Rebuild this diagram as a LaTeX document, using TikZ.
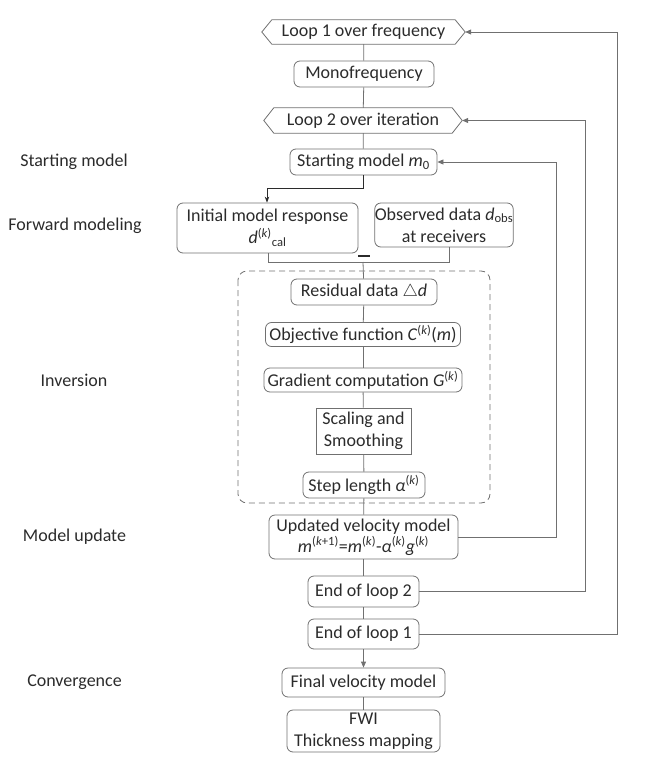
\documentclass[tikz,border=0pt]{standalone}
\usepackage{fontspec}
\setmainfont{Carlito}
\usetikzlibrary{arrows.meta}
\definecolor{txt}{HTML}{2B2B2B}
\definecolor{ln}{HTML}{707070}
\begin{document}
\begin{tikzpicture}[x=1pt,y=-1pt,
  every node/.style={text=txt, font=\fontsize{18}{22}\selectfont, inner sep=0pt},
  box/.style={draw=ln, line width=0.8pt, rounded corners=6pt, align=center},
  sqbox/.style={draw=ln, line width=0.8pt, align=center},
  hexnode/.style={align=center},
  conn/.style={draw=ln, line width=0.8pt},
  arr/.style={conn, -{Triangle[length=6pt,width=5pt]}},
  lab/.style={anchor=center}
]
\useasboundingbox (0,0) rectangle (659,760);

% left labels
\node[lab] (l1) at (74,162) {Starting model};
\node[lab] (l2) at (75,226) {Forward modeling};
\node[lab] (l3) at (74,380) {Inversion};
\node[lab] (l4) at (74.5,537) {Model update};
\node[lab] (l5) at (74.5,682) {Convergence};

% dashed inversion frame
\draw[ln, line width=0.8pt, dashed, dash pattern=on 6pt off 4pt, rounded corners=9pt] (238,271) rectangle (490,503);

% main column
\node[hexnode, minimum width=203pt, minimum height=24pt] (loop1) at (363.5,32) {Loop 1 over frequency};
\node[box, minimum width=140pt, minimum height=26pt] (mono) at (364,74) {Monofrequency};
\node[hexnode, minimum width=198pt, minimum height=25pt] (loop2) at (363,120.5) {Loop 2 over iteration};
\node[box, minimum width=147pt, minimum height=26pt] (start) at (363.5,162) {Starting model \textit{m}\textsubscript{0}};
\node[box, minimum width=181pt, minimum height=50pt] (init) at (267.5,228) {Initial model response\\[0pt]\textit{d}\textsuperscript{(\textit{k})}\textsubscript{cal}};
\node[box, minimum width=136pt, minimum height=44pt] (obs) at (444,225) {Observed data \textit{d}\textsubscript{obs}\\at receivers};
\node[box, minimum width=146pt, minimum height=26pt] (res) at (364,292) {Residual data $\triangle$\textit{d}};
\node[box, minimum width=195pt, minimum height=24pt] (obj) at (363,334.5) {Objective function \textit{C}\textsuperscript{(\textit{k})}(\textit{m})};
\node[box, minimum width=198pt, minimum height=24pt] (grad) at (363,380) {Gradient computation \textit{G}\textsuperscript{(\textit{k})}};
\node[sqbox, minimum width=95pt, minimum height=46pt] (scal) at (363.5,431) {Scaling and\\Smoothing};
\node[box, minimum width=122pt, minimum height=26pt] (step) at (364,485) {Step length \textit{α}\textsuperscript{(\textit{k})}};
\node[box, minimum width=189pt, minimum height=44pt] (upd) at (363.5,537) {Updated velocity model\\[-1pt]\textit{m}\textsuperscript{(\textit{k}+1)}=\textit{m}\textsuperscript{(\textit{k})}-\textit{α}\textsuperscript{(\textit{k})}\textit{g}\textsuperscript{(\textit{k})}};
\node[box, minimum width=111pt, minimum height=31pt] (end2) at (363.5,591.5) {End of loop 2};
\node[box, minimum width=111pt, minimum height=30pt] (end1) at (363.5,634) {End of loop 1};
\node[box, minimum width=163pt, minimum height=29pt] (final) at (363.5,682.5) {Final velocity model};
\node[box, minimum width=153pt, minimum height=42pt] (fwi) at (363.5,731) {FWI\\Thickness mapping};

% hexagon outlines
\draw[conn] (loop1.west) -- ([xshift=10pt]loop1.north west) -- ([xshift=-10pt]loop1.north east) -- (loop1.east) -- ([xshift=-10pt]loop1.south east) -- ([xshift=10pt]loop1.south west) -- cycle;
\draw[conn] (loop2.west) -- ([xshift=10pt]loop2.north west) -- ([xshift=-10pt]loop2.north east) -- (loop2.east) -- ([xshift=-10pt]loop2.south east) -- ([xshift=10pt]loop2.south west) -- cycle;

% connectors
\draw[conn] (loop1) -- (mono);
\draw[conn] (mono) -- (loop2);
\draw[conn] (loop2) -- (start);
\draw[draw=txt, line width=0.8pt, -{Stealth[length=6pt,width=4.5pt]}] (start.south) |- (267,188) -- (init.north -| 267,0);
\coordinate (jn) at (363,262);
\draw[conn] (init.south -| 268,0) -- (268,262) -- (449,262) -- (obs.south -| 449,0);
% minus sign between the two data boxes
\coordinate (mL) at (358,256);
\coordinate (mR) at (370,256);
\draw[draw=txt, line width=1.6pt] (mL) -- (mR);
\draw[conn] (jn) -- (res);
\draw[conn] (res) -- (obj);
\draw[conn] (obj) -- (grad);
\draw[conn] (grad) -- (scal);
\draw[conn] (scal) -- (step);
\draw[conn] (step) -- (upd);
\draw[conn] (upd) -- (end2);
\draw[conn] (end2) -- (end1);
\draw[arr] (end1) -- (final);
\draw[conn] (final) -- (fwi);

% feedback loops
\draw[arr] (upd.east) -- (556,537) -- (556,162) -- (start.east);
\draw[arr] (end2.east) -- (585,591.5) -- (585,120.5) -- (loop2.east);
\draw[arr] (end1.east) -- (617,634) -- (617,32) -- (loop1.east);
\end{tikzpicture}
\end{document}
